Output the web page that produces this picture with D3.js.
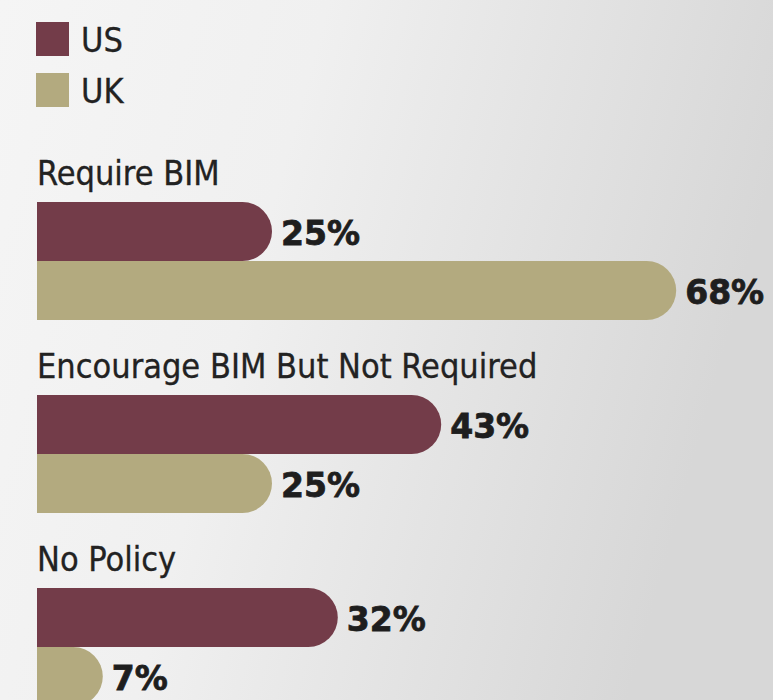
<!DOCTYPE html>
<html>
<head>
<meta charset="utf-8">
<script src="https://cdn.jsdelivr.net/npm/d3@7"></script>
<style>
  body { margin: 0; overflow: hidden; }
  #chart { width: 773px; height: 700px; }
</style>
</head>
<body>
<div id="chart"></div>
<script>
// data
var categories = ["Require BIM", "Encourage BIM But Not Required", "No Policy"];
var seriesNames = ["US", "UK"];
var usValues = [25, 43, 32];
var ukValues = [68, 25, 7];
var colors = ["#733c49", "#b3aa7f"];

function init() {
    var w = 773;
    var h = 700;

    var svg = d3.select("#chart")
                .append("svg")
                .attr("width", w)
                .attr("height", h);

    // soft grey background, lighter on the left
    var defs = svg.append("defs");
    var grad = defs.append("linearGradient")
                   .attr("id", "bg")
                   .attr("x1", "0%").attr("y1", "0%")
                   .attr("x2", "100%").attr("y2", "25%");
    grad.append("stop").attr("offset", "0%").attr("stop-color", "#f5f5f5");
    grad.append("stop").attr("offset", "40%").attr("stop-color", "#f0f0f0");
    grad.append("stop").attr("offset", "100%").attr("stop-color", "#d7d7d7");
    svg.append("rect")
       .attr("width", w).attr("height", h)
       .attr("fill", "url(#bg)");

    var labelFont = "'DejaVu Sans Condensed', 'DejaVu Sans', sans-serif";
    var valueFont = "'DejaVu Sans', sans-serif";

    // x scale: value in percent -> pixel
    var x = d3.scaleLinear()
              .domain([0, 100])
              .range([37, 977]);

    // one band per category, then one sub-band per series
    var y = d3.scaleBand()
              .domain(categories)
              .range([166, 166 + 193 * 3]);

    var ySub = d3.scaleBand()
                 .domain(seriesNames)
                 .range([36, 154]);

    var color = d3.scaleOrdinal()
                  .domain(seriesNames)
                  .range(colors);

    // legend
    var legend = svg.selectAll("g.legend")
                    .data(seriesNames)
                    .enter()
                    .append("g")
                    .attr("class", "legend")
                    .attr("transform", function(d, i) {
                      return "translate(36," + (22 + i * 51) + ")";
                    });
    legend.append("rect")
          .attr("width", 33)
          .attr("height", 34)
          .attr("fill", function(d) { return color(d); });
    legend.append("text")
          .attr("x", 45)
          .attr("y", 30)
          .attr("font-family", labelFont)
          .attr("font-stretch", "condensed")
          .attr("font-size", "34px")
          .attr("fill", "#222")
          .attr("stroke", "#222")
          .attr("stroke-width", 0.3)
          .text(function(d) { return d; });

    // rows
    var rows = categories.map(function(c, i) {
      return { category: c, values: [
        { series: "US", value: usValues[i] },
        { series: "UK", value: ukValues[i] }
      ]};
    });

    var groups = svg.selectAll("g.group")
                    .data(rows)
                    .enter()
                    .append("g")
                    .attr("class", "group")
                    .attr("transform", function(d) {
                      return "translate(0," + y(d.category) + ")";
                    });

    // category title
    groups.append("text")
          .attr("x", 37)
          .attr("y", 19)
          .attr("font-family", labelFont)
          .attr("font-stretch", "condensed")
          .attr("font-size", "34px")
          .attr("fill", "#222")
          .attr("stroke", "#222")
          .attr("stroke-width", 0.3)
          .text(function(d) { return d.category; });

    // bar with a fully rounded right end
    function barPath(v, top, bh) {
      var x0 = x(0), x1 = x(v);
      var r = Math.min(bh / 2, x1 - x0);
      return "M" + x0 + "," + top +
             "H" + (x1 - r) +
             "A" + r + "," + (bh / 2) + " 0 0 1 " + (x1 - r) + "," + (top + bh) +
             "H" + x0 + "Z";
    }

    var bars = groups.selectAll("g.bar")
                     .data(function(d) { return d.values; })
                     .enter()
                     .append("g")
                     .attr("class", "bar");

    bars.append("path")
        .attr("fill", function(d) { return color(d.series); })
        .attr("d", function(d) {
          return barPath(d.value, ySub(d.series), ySub.bandwidth());
        });

    // value labels, heavy weight
    bars.append("text")
        .attr("x", function(d) { return x(d.value) + 9; })
        .attr("y", function(d) { return ySub(d.series) + ySub.bandwidth() / 2 + 13; })
        .attr("font-family", valueFont)
        .attr("font-weight", "bold")
        .attr("font-size", "33px")
        .attr("fill", "#1e1e1e")
        .attr("stroke", "#1e1e1e")
        .attr("stroke-width", 0.8)
        .text(function(d) { return d.value + "%"; });
}

window.onload = init;
</script>
</body>
</html>
